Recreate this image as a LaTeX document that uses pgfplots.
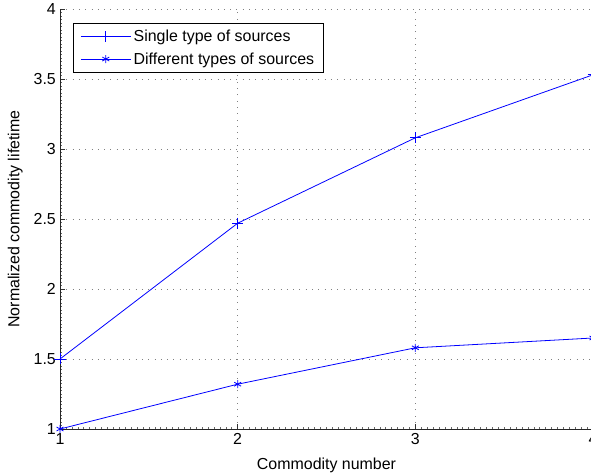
\documentclass[border=0pt]{standalone}
\usepackage{fontspec}
\setmainfont{Liberation Sans}
\usepackage{pgfplots}
\pgfplotsset{compat=1.18}
\definecolor{mblue}{RGB}{0,0,255}
\pgfplotsset{mylegimg/.style={legend image code/.code={\draw[mark repeat=2, mark phase=2] plot coordinates {(0bp,0bp) (25bp,0bp) (50bp,0bp)};}}}
\begin{document}
\begin{tikzpicture}
\begin{axis}[
  set layers=standard,
  scale only axis,
  width=533bp, height=420bp,
  xmin=1, xmax=4, ymin=1, ymax=4,
  xtick={1,2,3,4}, ytick={1,1.5,2,2.5,3,3.5,4},
  yticklabels={1,1.5,2,2.5,3,3.5,4},
  xticklabels={1,2,3,4},
  axis x line*=bottom, axis y line*=left,
  axis on top=false,
  axis line style={line width=0.8pt, black!85},
  tick align=inside,
  major tick length=5bp,
  minor tick length=2bp,
  minor x tick num=29, minor y tick num=19,
  every tick/.style={black!80, line width=0.6pt},
  minor tick style={black!60, line width=0.5pt},
  grid=major,
  major grid style={black!50, line width=0.7pt, dash pattern=on 0.7bp off 5.6bp},
  tick label style={font=\fontsize{16}{19}\selectfont},
  xticklabel style={anchor=north, inner sep=0pt, yshift=-4bp},
  yticklabel style={anchor=east, inner sep=0pt, xshift=-4bp},
  label style={font=\fontsize{16}{19}\selectfont},
  xlabel={Commodity number},
  xlabel style={at={([yshift=-40bp]axis description cs:0.5,0)}, anchor=base, inner sep=0pt},
  ylabel={Normalized commodity lifetime},
  ylabel style={at={([xshift=-37bp]axis description cs:0,0.5)}, anchor=south, inner sep=0pt, rotate=0},
  clip=false,
  legend cell align=left,
  legend style={at={(axis description cs:0.0244,0.9667)}, anchor=north west,
    font=\fontsize{16}{19}\selectfont, draw=black, line width=0.8pt, inner xsep=7bp, inner ysep=2bp,
    row sep=0bp, nodes={inner xsep=2.5bp, inner ysep=4.7bp}},
]
\addplot[mblue, line width=0.8pt, mark=+, mark size=5.5bp, mark options={mblue, line width=0.8pt}, mylegimg] coordinates {(1,1.5) (2,2.47) (3,3.08) (4,3.53)};
\addlegendentry{Single type of sources}
\addplot[mblue, line width=0.8pt, mark=asterisk, mark size=4bp, mark options={mblue, line width=0.8pt}, mylegimg] coordinates {(1,1) (2,1.32) (3,1.58) (4,1.65)};
\addlegendentry{Different types of sources}
\coordinate (sw) at (rel axis cs:0,0);
\coordinate (ne) at (rel axis cs:1,1);
\end{axis}
\pgfresetboundingbox
\useasboundingbox ([shift={(-60bp,-45bp)}]sw) rectangle ([shift={(-2bp,9bp)}]ne);
\end{tikzpicture}
\end{document}
